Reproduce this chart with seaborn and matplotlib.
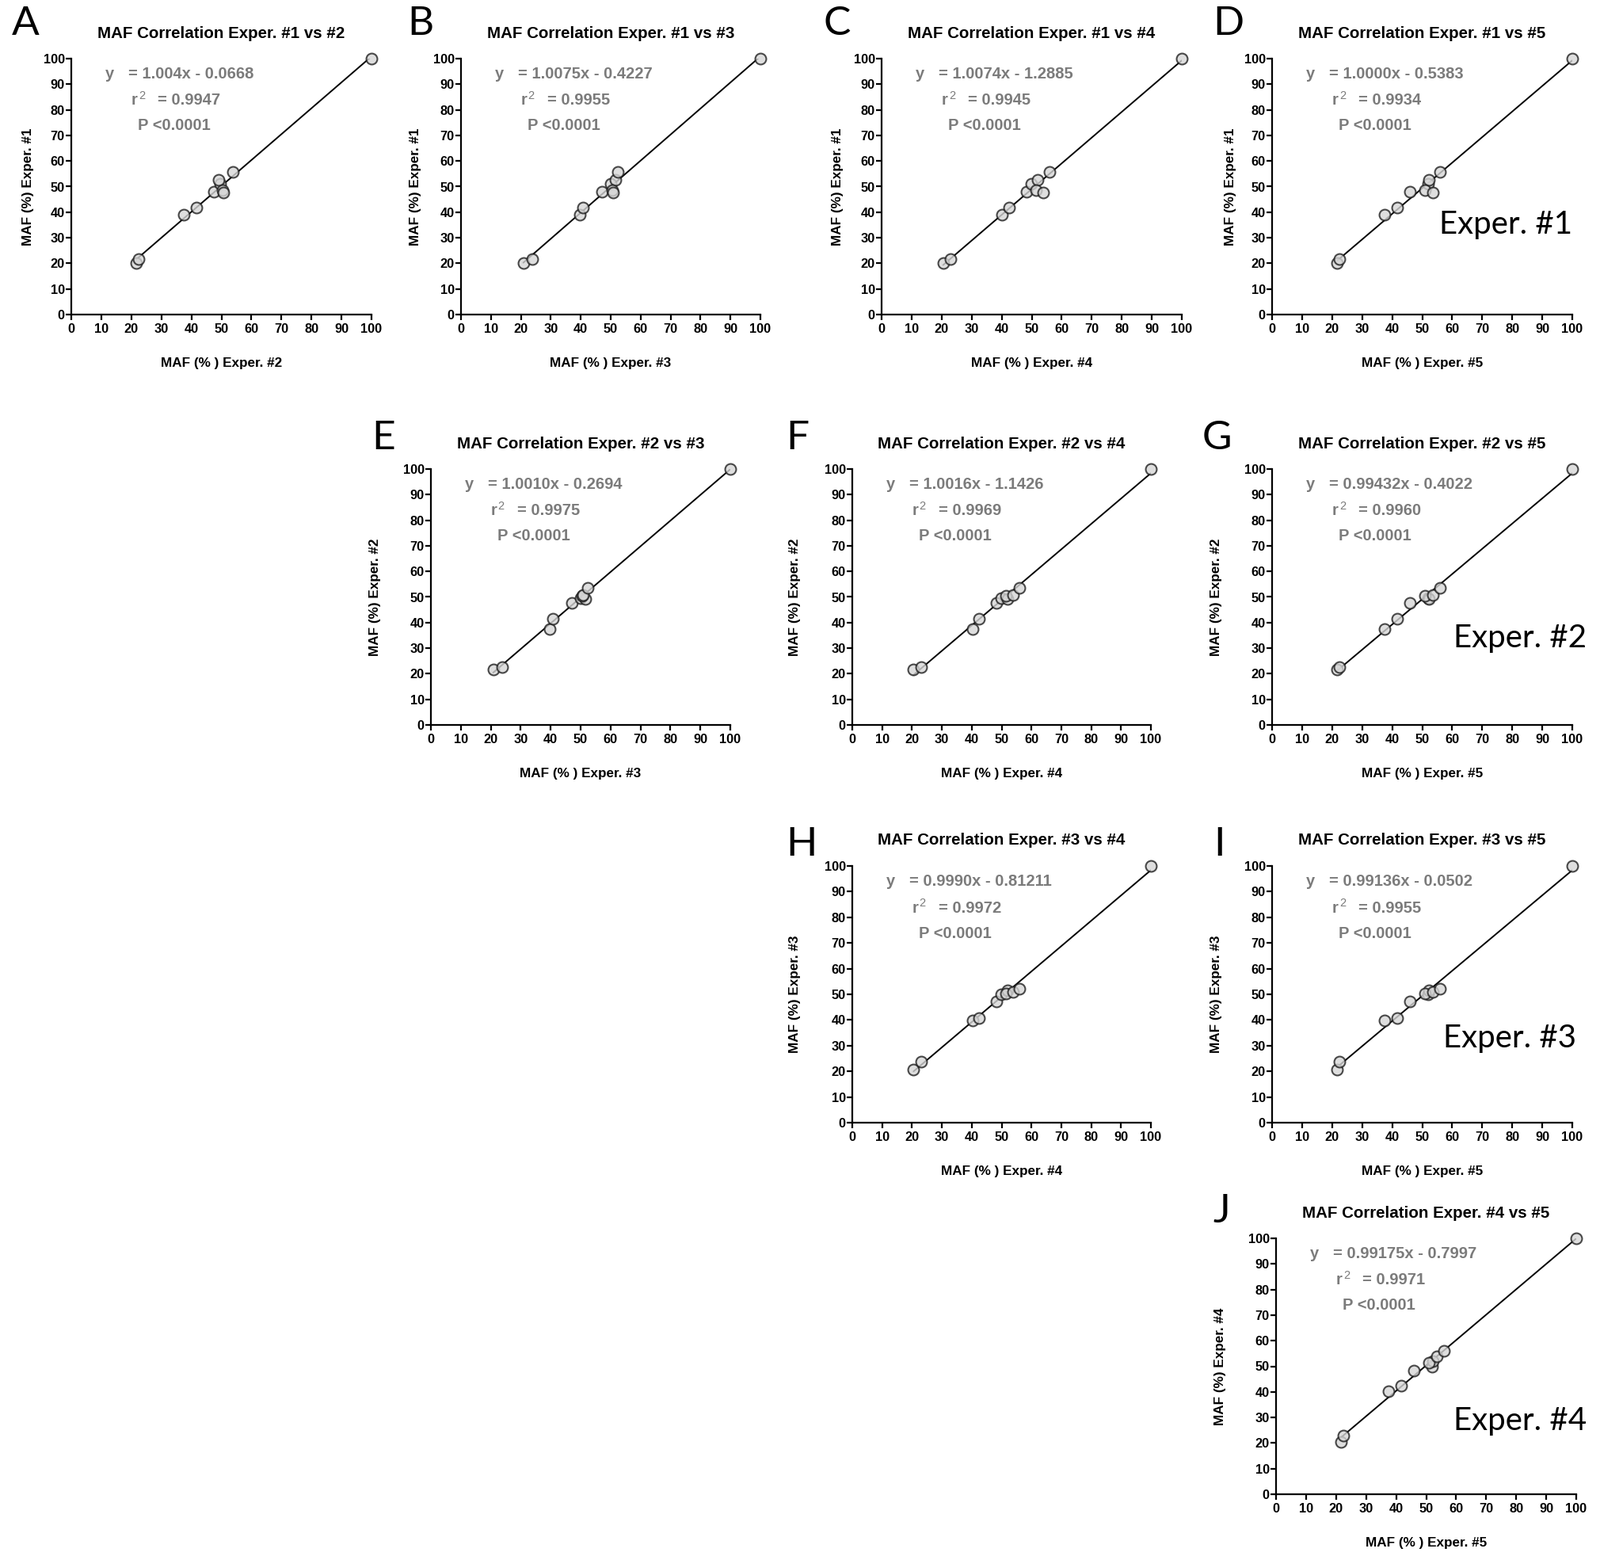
import matplotlib
matplotlib.use("Agg")
import matplotlib.pyplot as plt
import seaborn as sns
import numpy as np

# ---------------- data ----------------
exp1 = [20.1, 21.7, 39.0, 41.8, 48.1, 51.1, 52.7, 48.7, 47.8, 55.7, 100]
exp2 = [21.7, 22.5, 37.5, 41.6, 47.6, 49.5, 49.1, 50.5, 50.7, 53.7, 100]
exp3 = [20.8, 23.8, 39.8, 40.7, 47.1, 50.1, 51.6, 50.4, 50.8, 52.3, 100]
exp4 = [20.5, 23.0, 40.2, 42.5, 48.3, 49.8, 52.1, 51.4, 53.8, 56.0, 100]
exp5 = [21.7, 22.3, 37.5, 41.7, 45.8, 52.0, 52.3, 51.0, 53.6, 56.0, 100]
experiments = {1: exp1, 2: exp2, 3: exp3, 4: exp4, 5: exp5}

letters = ["A", "B", "C", "D", "E", "F", "G", "H", "I", "J"]
pairs = [(1, 2), (1, 3), (1, 4), (1, 5), (2, 3), (2, 4), (2, 5), (3, 4), (3, 5), (4, 5)]
equations = ["= 1.004x - 0.0668", "= 1.0075x - 0.4227", "= 1.0074x - 1.2885",
             "= 1.0000x - 0.5383", "= 1.0010x - 0.2694", "= 1.0016x - 1.1426",
             "= 0.99432x - 0.4022", "= 0.9990x - 0.81211", "= 0.99136x - 0.0502",
             "= 0.99175x - 0.7997"]
r2_values = ["= 0.9947", "= 0.9955", "= 0.9945", "= 0.9934", "= 0.9975",
             "= 0.9969", "= 0.9960", "= 0.9972", "= 0.9955", "= 0.9971"]
p_text = "P <0.0001"
big_labels = {"D": "Exper. #1", "G": "Exper. #2", "I": "Exper. #3", "J": "Exper. #4"}
ticks = [0, 10, 20, 30, 40, 50, 60, 70, 80, 90, 100]

# ---------------- layout (pixels) ----------------
W, H = 2020, 1969
# x0, x100, y100, y0
axes_px = [(90, 469, 74, 397), (582, 960, 74, 397), (1113, 1492, 74, 397), (1606, 1985, 74, 397),
           (544, 922, 592, 915), (1076, 1453, 592, 915), (1606, 1985, 592, 915),
           (1076, 1453, 1093, 1417), (1606, 1985, 1093, 1417),
           (1611, 1990, 1563, 1886)]
ylab_gap = [47, 50, 48, 45, 63, 65, 63, 65, 63, 63]
letter_px = [(15, 44), (514, 44), (1039, 44), (1531, 44),
             (469, 567), (992, 567), (1518, 567),
             (992, 1080), (1532, 1080), (1531, 1543)]
big_px = {"D": (1817, 283), "G": (1835, 805), "I": (1822, 1310), "J": (1835, 1793)}

sns.set_theme(style="ticks")
plt.rcParams["font.family"] = ["Liberation Sans", "DejaVu Sans"]
plt.rcParams["axes.linewidth"] = 1.6

fig = plt.figure(figsize=(W / 100, H / 100), dpi=100)
fig.patch.set_facecolor("white")

gray = "#7b7b7b"

for i, (ya, xa) in enumerate(pairs):
    x0, x1, y1, y0 = axes_px[i]
    rect = [x0 / W, 1 - y0 / H, (x1 - x0) / W, (y0 - y1) / H]
    ax = fig.add_axes(rect)
    ax.set_facecolor("white")
    xs = experiments[xa]
    ys = experiments[ya]
    sns.regplot(x=xs, y=ys, ax=ax, ci=None, truncate=True, color="black",
                scatter_kws=dict(s=100, color="#d6d6d6", edgecolor="#1e1e1e",
                                 linewidths=1.5, zorder=3, clip_on=False),
                line_kws=dict(color="black", lw=1.4, zorder=2))
    ax.set_xlim(0, 100)
    ax.set_ylim(0, 100)
    ax.set_xticks(ticks)
    ax.set_yticks(ticks)
    for s in ["top", "right"]:
        ax.spines[s].set_visible(False)
    for s in ["left", "bottom"]:
        ax.spines[s].set_color("black")
        ax.spines[s].set_linewidth(1.6)
    ax.tick_params(axis="both", direction="out", length=5, width=1.6, colors="black",
                   labelsize=11.8)
    ax.tick_params(axis="x", pad=3)
    ax.tick_params(axis="y", pad=1)
    for lab in ax.get_xticklabels() + ax.get_yticklabels():
        lab.set_fontweight("bold")
    ax.set_xlabel("MAF (% ) Exper. #" + str(xa), fontsize=12.3, fontweight="bold", color="black")
    ax.set_ylabel("MAF (%) Exper. #" + str(ya), fontsize=12.3, fontweight="bold", color="black")
    ax.xaxis.set_label_coords(0.5, -(451 - 397) / 323)
    ax.yaxis.set_label_coords(-ylab_gap[i] / (x1 - x0), 0.5)
    ax.text(0.5, 1.099, "MAF Correlation Exper. #%d vs #%d" % (ya, xa), transform=ax.transAxes,
            ha="center", va="center", fontsize=14.8, fontweight="bold", color="black")
    # annotations
    ax.text(11.3, 94.0, "y", ha="left", va="center", fontsize=14.5, fontweight="bold", color=gray)
    ax.text(19.0, 94.0, equations[i], ha="left", va="center", fontsize=14.5, fontweight="bold", color=gray)
    ax.text(20.0, 83.6, "r", ha="left", va="center", fontsize=14.5, fontweight="bold", color=gray)
    ax.text(22.4, 85.6, "2", ha="left", va="center", fontsize=10.5, color=gray)
    ax.text(28.8, 83.6, r2_values[i], ha="left", va="center", fontsize=14.5, fontweight="bold", color=gray)
    ax.text(22.2, 73.7, p_text, ha="left", va="center", fontsize=14.5, fontweight="bold", color=gray)

for i, L in enumerate(letters):
    lx, ly = letter_px[i]
    fig.text(lx / W, 1 - ly / H, L, ha="left", va="baseline", fontsize=37,
             family=["Lato", "DejaVu Sans"], color="black")

for L, txt in big_labels.items():
    bx, by = big_px[L]
    fig.text(bx / W, 1 - by / H, txt, ha="left", va="center", fontsize=29,
             family=["Lato", "DejaVu Sans"], color="black")

fig.savefig("out.png", dpi=100, facecolor="white")
